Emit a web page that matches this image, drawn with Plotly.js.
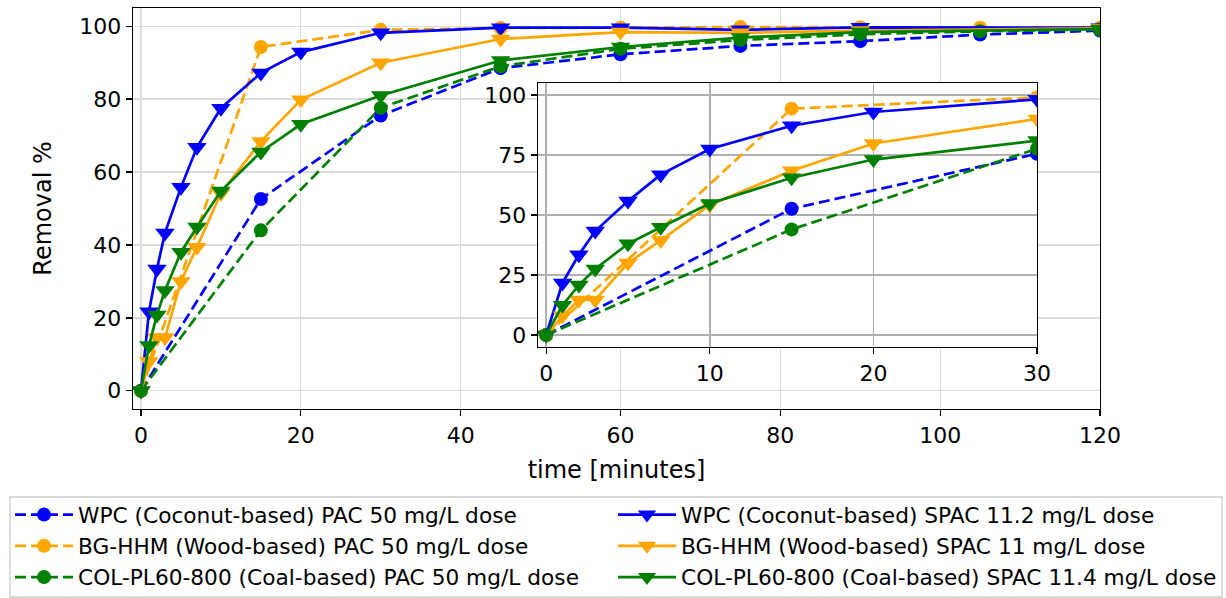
<!DOCTYPE html>
<html>
<head>
<meta charset="utf-8">
<script src="https://cdn.plot.ly/plotly-3.0.1.min.js"></script>
<style>html,body{margin:0;padding:0;background:#fff;}#chart{width:1226px;height:598px;}</style>
</head>
<body>
<div id="chart"></div>
<script>
// ---- data ----
const tPAC = [0, 15, 30, 45, 60, 75, 90, 105, 120];
const wpcPAC = [0, 52.6, 75.5, 88.5, 92.3, 94.6, 95.9, 97.7, 98.8];
const bgPAC = [0, 94.3, 99.0, 99.5, 99.6, 99.8, 99.7, 99.6, 99.6];
const colPAC = [0, 44.0, 77.6, 89.0, 93.8, 96.2, 97.8, 98.6, 99.1];

const tSPAC = [0, 1, 2, 3, 5, 7, 10, 15, 20, 30, 45, 60, 75, 90, 120];
const wpcSPAC = [0, 21.7, 33.4, 43.3, 55.8, 66.8, 77.5, 87.2, 92.9, 98.2, 99.6, 99.6, 99.0, 99.7, 99.6];
const bgSPAC = [0, 8.0, 14.6, 14.6, 30.0, 39.4, 54.2, 68.4, 79.8, 90.0, 96.5, 98.4, 98.2, 98.8, 99.4];
const colSPAC = [0, 12.4, 20.8, 27.5, 38.0, 44.9, 54.8, 65.5, 73.1, 81.0, 90.6, 94.3, 96.9, 98.4, 99.2];

const names = [
  "WPC (Coconut-based) PAC 50 mg/L dose",
  "BG-HHM (Wood-based) PAC 50 mg/L dose",
  "COL-PL60-800 (Coal-based) PAC 50 mg/L dose",
  "WPC (Coconut-based) SPAC 11.2 mg/L dose",
  "BG-HHM (Wood-based) SPAC 11 mg/L dose",
  "COL-PL60-800 (Coal-based) SPAC 11.4 mg/L dose"
];
const colors = ["#0000ff", "#ffa500", "#008000"];
const mainXTicks = [0, 20, 40, 60, 80, 100, 120];
const mainYTicks = [0, 20, 40, 60, 80, 100];
const insetXTicks = [0, 10, 20, 30];
const insetYTicks = [0, 25, 50, 75, 100];

// ---- build traces ----
const series = [
  {x: tPAC, y: wpcPAC, c: 0, pac: true},
  {x: tPAC, y: bgPAC, c: 1, pac: true},
  {x: tPAC, y: colPAC, c: 2, pac: true},
  {x: tSPAC, y: wpcSPAC, c: 0, pac: false},
  {x: tSPAC, y: bgSPAC, c: 1, pac: false},
  {x: tSPAC, y: colSPAC, c: 2, pac: false}
];
const traces = [];
function mk(s, i, inset) {
  return {
    type: "scatter", mode: "lines+markers",
    x: s.x, y: s.y, name: names[i],
    xaxis: inset ? "x2" : "x", yaxis: inset ? "y2" : "y",
    showlegend: !inset, legend: s.pac ? "legend" : "legend2",
    line: {color: colors[s.c], width: 2.7, dash: s.pac ? "11px,5px" : "solid"},
    marker: {color: colors[s.c], size: s.pac ? 14 : 17, symbol: s.pac ? "circle" : "triangle-down", line: {width: 0}},
    hoverinfo: "skip"
  };
}
series.forEach((s, i) => traces.push(mk(s, i, false)));
series.forEach((s, i) => traces.push(mk(s, i, true)));

const font = {family: "DejaVu Sans, sans-serif", size: 22, color: "#000"};
const axBase = {
  showline: true, linecolor: "#000", linewidth: 1.3, mirror: true,
  ticks: "outside", ticklen: 6, tickwidth: 1.3, tickcolor: "#000",
  zeroline: false, showgrid: true, tickfont: {size: 22},
  fixedrange: true, automargin: false
};
const legBase = {
  orientation: "v", xref: "paper", yref: "container", xanchor: "left", yanchor: "top",
  borderwidth: 0, bgcolor: "rgba(0,0,0,0)", font: {size: 21.7}, itemwidth: 58,
  traceorder: "normal", tracegroupgap: 0
};
const layout = {
  width: 1226, height: 598,
  margin: {l: 133, r: 126, t: 8, b: 189},
  paper_bgcolor: "#fff", plot_bgcolor: "#fff",
  font: font,
  showlegend: true,
  xaxis: Object.assign({}, axBase, {
    domain: [0, 1], range: [-1, 120], tickvals: mainXTicks, anchor: "y",
    gridcolor: "#dcdcdc", gridwidth: 1.3,
    title: {text: "time [minutes]", font: {size: 24}, standoff: 14}
  }),
  yaxis: Object.assign({}, axBase, {
    domain: [0, 1], range: [-5, 105], tickvals: mainYTicks, anchor: "x",
    gridcolor: "#dcdcdc", gridwidth: 1.3,
    title: {text: "Removal %", font: {size: 24}, standoff: 21}
  }),
  xaxis2: Object.assign({}, axBase, {
    domain: [0.4188, 0.9349], range: [-0.5, 30], tickvals: insetXTicks, anchor: "y2",
    gridcolor: "#b0b0b0", gridwidth: 1.5
  }),
  yaxis2: Object.assign({}, axBase, {
    domain: [0.1546, 0.813], range: [-5, 105], tickvals: insetYTicks, anchor: "x2",
    gridcolor: "#b0b0b0", gridwidth: 1.5
  }),
  legend: Object.assign({}, legBase, {x: (10 - 133) / 967, y: 1 - 494 / 598}),
  legend2: Object.assign({}, legBase, {x: (613 - 133) / 967, y: 1 - 494 / 598}),
  shapes: [{
    type: "rect", xref: "paper", yref: "paper",
    x0: (10 - 133) / 967, x1: (1222 - 133) / 967,
    y0: (409 - 497) / 401, y1: (409 - 597) / 401,
    line: {color: "#cccccc", width: 1.3}, fillcolor: "rgba(0,0,0,0)", layer: "above"
  }]
};
Plotly.newPlot("chart", traces, layout, {staticPlot: true, displayModeBar: false});
</script>
</body>
</html>
